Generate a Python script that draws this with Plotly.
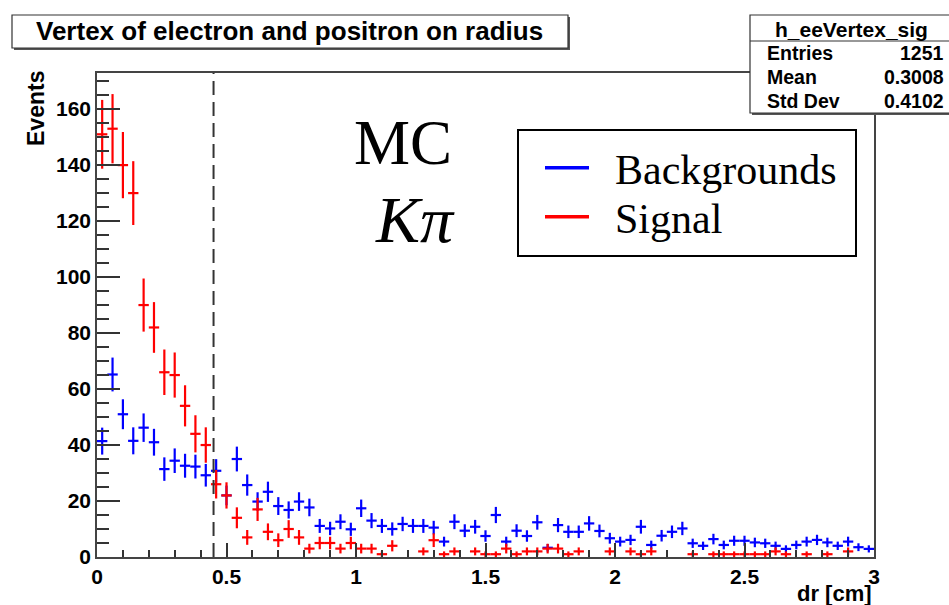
import numpy as np
import plotly.graph_objects as go

# ---------------- data ----------------
bin_edges_lo = 0.0
bin_width = 0.04
n_bins = 75
bin_centers = [round(bin_edges_lo + (i + 0.5) * bin_width, 3) for i in range(n_bins)]

backgrounds = [41.4, 65.2, 51, 41.5, 46.2, 41, 31.4, 34.4, 32.6, 32.3,
               29.2, 30.8, 22, 35, 25.7, 19.8, 23.3, 18.2, 16.8, 19.8,
               17.7, 11.1, 10.2, 12.6, 9.9, 17.4, 13, 11.1, 10, 11.8,
               11.1, 11.1, 10.5, 5.5, 12.6, 9.4, 10.8, 7.5, 15, 5.5,
               9.4, 7.5, 12.4, 3.3, 11.4, 9, 9, 12, 9.3, 6.7,
               5.5, 6.1, 10.8, 4.3, 7.6, 9, 10.2, 4.9, 4, 6.4,
               4.3, 5.8, 5.8, 5.2, 4.9, 4, 2.9, 4.3, 5.5, 6.1,
               5.2, 4, 5.5, 3.5, 2.9]
bkg_weight = 0.56  # per-entry weight of the scaled background histogram

signal = [151, 153, 140, 130, 90, 82, 66, 65, 54, 44,
          40, 26, 22, 14, 7, 17, 9, 6, 10, 7,
          3, 5, 5, 3, 5, 3, 3, 1, 4, 0,
          0, 2, 6, 1, 2, 0, 2, 1, 1, 3,
          1, 2, 2, 3, 3, 1, 2, 0, 0, 2,
          0, 2, 1, 2, 0, 0, 0, 1, 0, 1,
          1, 1, 1, 1, 1, 2, 1, 0, 1, 0,
          1, 0, 2, 0, 0]

series_names = ["Backgrounds", "Signal"]
x_tick_vals = [0, 0.5, 1, 1.5, 2, 2.5, 3]
x_tick_text = ["0", "0.5", "1", "1.5", "2", "2.5", "3"]
y_tick_vals = [0, 20, 40, 60, 80, 100, 120, 140, 160]

cut_value = 0.45
title_text = "Vertex of electron and positron on radius"
stats_name = "h_eeVertex_sig"
stats_rows = [("Entries", "1251"), ("Mean", "0.3008"), ("Std Dev", "0.4102")]

# ---------------- layout geometry ----------------
W, H = 949, 605
L, R, T, B = 97, 874, 73, 557
YMAX = 172.9


def px(p):
    return (p - L) / (R - L)


def py(p):
    return (B - p) / (B - T)


def hist_trace(vals, err, color, name):
    xs, ys, es = [], [], []
    for c, v, e in zip(bin_centers, vals, err):
        if v > 0:
            xs.append(c)
            ys.append(v)
            es.append(e)
    return go.Scatter(
        x=xs, y=ys, mode="markers", name=name, showlegend=False,
        marker=dict(size=1, color=color),
        error_x=dict(type="constant", value=bin_width / 2, width=0, thickness=2.2, color=color),
        error_y=dict(type="data", array=es, width=0, thickness=2.2, color=color),
        hoverinfo="x+y",
    )


bkg_err = [np.sqrt(v * bkg_weight) for v in backgrounds]
sig_err = [np.sqrt(v) for v in signal]

BLUE = "#0000ff"
RED = "#ff0000"
NB = "\u00a0"

fig = go.Figure()
fig.add_trace(hist_trace(backgrounds, bkg_err, BLUE, series_names[0]))
fig.add_trace(hist_trace(signal, sig_err, RED, series_names[1]))
# legend entries (one legend per entry for exact placement)
fig.add_trace(go.Scatter(x=[None], y=[None], mode="lines", name=NB * 2 + series_names[0],
                         line=dict(color=BLUE, width=3.5), legend="legend"))
fig.add_trace(go.Scatter(x=[None], y=[None], mode="lines", name=NB * 2 + series_names[1],
                         line=dict(color=RED, width=3.5), legend="legend2"))

sans_bold = dict(family="Liberation Sans, Arial, sans-serif", color="black", weight="bold")

shapes = []
# dashed cut line
shapes.append(dict(type="line", xref="x", yref="paper", x0=cut_value, x1=cut_value, y0=0, y1=1,
                   line=dict(color="#333333", width=2, dash="14px,7px"), layer="above"))
# title box (shadow + box)
shapes.append(dict(type="rect", xref="paper", yref="paper", x0=px(14), x1=px(570), y0=py(50), y1=py(17),
                   line=dict(width=0), fillcolor="#555555", layer="above"))
shapes.append(dict(type="rect", xref="paper", yref="paper", x0=px(12), x1=px(568), y0=py(48), y1=py(15),
                   line=dict(color="#333333", width=1.2), fillcolor="white", layer="above"))
# stats box
shapes.append(dict(type="rect", xref="paper", yref="paper", x0=px(752), x1=px(960), y0=py(115), y1=py(17),
                   line=dict(width=0), fillcolor="#555555", layer="above"))
shapes.append(dict(type="rect", xref="paper", yref="paper", x0=px(750), x1=px(958), y0=py(113), y1=py(15),
                   line=dict(color="#333333", width=1.2), fillcolor="white", layer="above"))
shapes.append(dict(type="line", xref="paper", yref="paper", x0=px(750), x1=px(958), y0=py(41), y1=py(41),
                   line=dict(color="#333333", width=1.2), layer="above"))
# legend box
shapes.append(dict(type="rect", xref="paper", yref="paper", x0=px(518), x1=px(856), y0=py(256), y1=py(130),
                   line=dict(color="black", width=2), fillcolor="white", layer="above"))

annotations = []
annotations.append(dict(text=title_text, xref="paper", yref="paper", x=px(289), y=py(31),
                        xanchor="center", yanchor="middle", showarrow=False,
                        font=dict(size=26, **sans_bold)))
annotations.append(dict(text=stats_name, xref="paper", yref="paper", x=px(851), y=py(29),
                        xanchor="center", yanchor="middle", showarrow=False,
                        font=dict(size=21, **sans_bold)))
for i, (k, v) in enumerate(stats_rows):
    yy = py(53 + i * 24)
    annotations.append(dict(text=k, xref="paper", yref="paper", x=px(765), y=yy,
                            xanchor="left", yanchor="middle", showarrow=False,
                            font=dict(size=19.5, **sans_bold)))
    annotations.append(dict(text=v, xref="paper", yref="paper", x=px(946), y=yy,
                            xanchor="right", yanchor="middle", showarrow=False,
                            font=dict(size=19.5, **sans_bold)))
annotations.append(dict(text="Events", xref="paper", yref="paper", x=px(36), y=py(108),
                        xanchor="center", yanchor="middle", textangle=-90, showarrow=False,
                        font=dict(size=23, **sans_bold)))
annotations.append(dict(text="dr [cm]", xref="paper", yref="paper", x=px(874), y=py(593),
                        xanchor="right", yanchor="middle", showarrow=False,
                        font=dict(size=22, **sans_bold)))
serif = "Liberation Serif, Times New Roman, serif"
annotations.append(dict(text="MC", xref="paper", yref="paper", x=px(403), y=py(143),
                        xanchor="center", yanchor="middle", showarrow=False,
                        font=dict(size=63, family=serif, color="black")))
annotations.append(dict(text="<i>K\u03c0</i>", xref="paper", yref="paper", x=px(457), y=py(219),
                        xanchor="right", yanchor="middle", showarrow=False,
                        font=dict(size=66, family=serif, color="black")))

legend_common = dict(xanchor="left", yanchor="middle", bgcolor="rgba(0,0,0,0)", borderwidth=0,
                     font=dict(family=serif, size=42, color="black"),
                     itemwidth=44, tracegroupgap=0)

fig.update_layout(
    width=W, height=H,
    margin=dict(l=L, r=W - R, t=T, b=H - B, pad=0),
    paper_bgcolor="white", plot_bgcolor="white",
    shapes=shapes, annotations=annotations,
    showlegend=True,
    legend=dict(x=px(540), y=py(168), **legend_common),
    legend2=dict(x=px(540), y=py(217), **legend_common),
    xaxis=dict(range=[0, 3], tickvals=x_tick_vals, ticktext=x_tick_text,
               ticks="inside", ticklen=14, tickwidth=1.5, tickcolor="#333333",
               minor=dict(ticks="inside", dtick=0.1, ticklen=7, tickwidth=1.5, tickcolor="#333333"),
               showline=True, mirror=True, linecolor="#444444", linewidth=1.5,
               showgrid=False, zeroline=False,
               tickfont=dict(size=21, **sans_bold)),
    yaxis=dict(range=[0, YMAX], tickvals=y_tick_vals,
               ticks="inside", ticklen=23, tickwidth=1.5, tickcolor="#333333",
               minor=dict(ticks="inside", dtick=5, ticklen=12, tickwidth=1.5, tickcolor="#333333"),
               showline=True, mirror=True, linecolor="#444444", linewidth=1.5,
               showgrid=False, zeroline=False,
               tickfont=dict(size=21, **sans_bold)),
)

fig.write_html("out.html", config={"displayModeBar": False},
               post_script="document.body.style.margin='0';document.body.style.overflow='hidden';")
